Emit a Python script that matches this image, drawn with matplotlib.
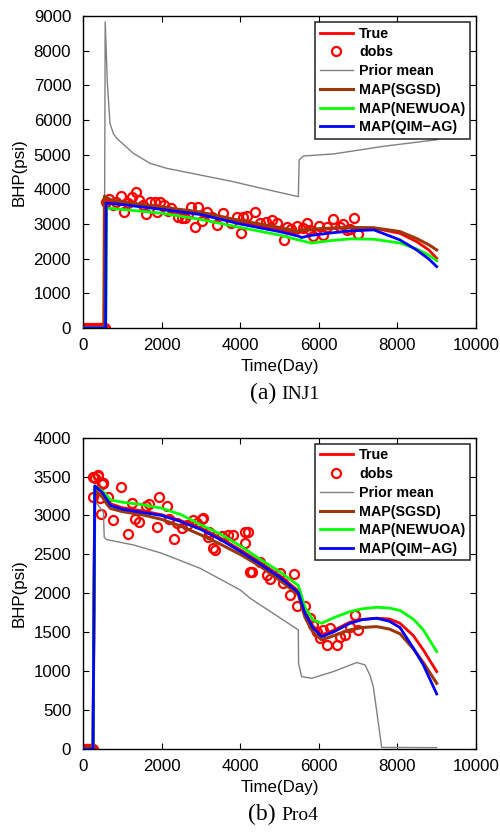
import numpy as np
import matplotlib
matplotlib.use("Agg")
import matplotlib.pyplot as plt

plt.rcParams['font.family'] = ['Liberation Sans', 'DejaVu Sans']

# ---------------- (a) INJ1 ----------------
inj_true_t = [0, 540, 555, 700, 1000, 2000, 3000, 4000, 5000, 5479, 5560, 5800, 6300, 6800, 7400, 8066, 8490, 8800, 9000]
inj_true_v = [0, 0, 3700, 3650, 3600, 3460, 3300, 3060, 2850, 2730, 2790, 2830, 2870, 2890, 2880, 2730, 2490, 2250, 2010]
inj_sgsd_t = [0, 530, 545, 700, 1000, 2000, 3000, 4000, 5000, 5479, 5560, 5800, 6300, 6800, 7400, 8066, 8490, 8800, 9000]
inj_sgsd_v = [0, 0, 3800, 3700, 3640, 3490, 3340, 3100, 2900, 2780, 2830, 2850, 2880, 2900, 2890, 2780, 2580, 2400, 2250]
inj_newuoa_t = [0, 580, 600, 700, 1000, 2000, 3000, 4000, 5000, 5479, 5560, 5800, 6300, 6800, 7400, 8066, 8490, 8800, 9000]
inj_newuoa_v = [0, 0, 3450, 3450, 3420, 3310, 3130, 2900, 2680, 2540, 2520, 2450, 2520, 2570, 2560, 2450, 2280, 2100, 1940]
inj_qim_t = [0, 575, 590, 700, 1000, 2000, 3000, 4000, 5000, 5479, 5560, 5800, 6300, 6800, 7400, 8066, 8490, 8800, 9000]
inj_qim_v = [0, 0, 3600, 3590, 3560, 3420, 3270, 3000, 2780, 2650, 2610, 2670, 2740, 2800, 2830, 2540, 2250, 1990, 1770]
inj_prior_t = [0, 540, 565, 620, 687, 771, 857, 1280, 1705, 2129, 2977, 3825, 4250, 5479, 5500, 5606, 6370, 7642, 9000]
inj_prior_v = [0, 0, 8830, 7060, 5900, 5615, 5470, 5040, 4750, 4606, 4413, 4220, 4105, 3788, 4846, 4961, 5019, 5240, 5430]
inj_dobs_t = [0, 50, 100, 150, 200, 250, 300, 350, 400, 450, 500, 550,
              585, 670, 760, 850, 957, 1051, 1150, 1238, 1340, 1433, 1520, 1603, 1705, 1832, 1875, 1959,
              2061, 2154, 2250, 2426, 2510, 2595, 2680, 2756, 2850, 2935, 3020, 3146, 3273, 3400, 3562,
              3757, 3926, 4012, 4079, 4163, 4377, 4504, 4656, 4800, 4928, 5115, 5199, 5300, 5453, 5600,
              5707, 5776, 5860, 6013, 6115, 6200, 6370, 6539, 6624, 6709, 6794, 6896, 7006]
inj_dobs_v = [0, 0, 0, 0, 0, 0, 0, 0, 0, 0, 0, 0,
              3643, 3711, 3550, 3620, 3807, 3336, 3600, 3787, 3932, 3692, 3560, 3288, 3624, 3624, 3355, 3643,
              3548, 3384, 3450, 3211, 3163, 3170, 3300, 3480, 2904, 3480, 3095, 3355, 3191, 2971, 3325,
              3018, 3191, 2750, 3191, 3230, 3345, 3038, 3066, 3120, 3038, 2538, 2923, 2850, 2942, 2870,
              3038, 2827, 2654, 2942, 2683, 2923, 3144, 2904, 3000, 2827, 2846, 3163, 2702]

# ---------------- (b) Pro4 ----------------
pro_t = [0, 255, 300, 500, 600, 700, 1000, 1500, 2000, 2500, 3000, 3500, 4000, 4500, 5000, 5479,
         5650, 5850, 6073, 6400, 6794, 7100, 7472, 7800, 8066, 8400, 8660, 9000]
pro_true_v = [0, 0, 3370, 3300, 3220, 3150, 3100, 3060, 3010, 2930, 2840, 2710, 2560, 2400, 2230, 2030,
              1760, 1580, 1465, 1530, 1630, 1665, 1680, 1670, 1615, 1460, 1272, 994]
pro_sgsd_v = [0, 0, 3330, 3230, 3150, 3090, 3050, 3010, 2950, 2860, 2750, 2630, 2500, 2350, 2170, 1980,
              1690, 1500, 1401, 1460, 1530, 1560, 1572, 1540, 1480, 1290, 1110, 844]
pro_newuoa_v = [0, 0, 3380, 3310, 3260, 3200, 3170, 3140, 3094, 3010, 2880, 2760, 2610, 2440, 2280, 2100,
                1820, 1660, 1615, 1690, 1765, 1800, 1821, 1810, 1780, 1670, 1530, 1251]
pro_qim_v = [0, 0, 3380, 3290, 3210, 3130, 3080, 3040, 3000, 2920, 2820, 2690, 2540, 2380, 2210, 2010,
             1740, 1560, 1443, 1510, 1615, 1660, 1680, 1640, 1560, 1300, 1080, 707]
pro_prior_t = [0, 260, 290, 430, 520, 540, 600, 1280, 2000, 2977, 4000, 4250, 5479, 5485, 5563, 5818,
               6370, 6963, 7175, 7300, 7387, 7600, 9000]
pro_prior_v = [0, 0, 3200, 3100, 3040, 2720, 2690, 2622, 2515, 2322, 2043, 1937, 1530, 1100, 929, 908,
               994, 1110, 1080, 950, 801, 20, 17]
pro_dobs_t = [0, 25, 50, 75, 100, 125, 150, 175, 200, 225, 250,
              245, 263, 305, 373, 390, 432, 450, 475, 500, 517, 645, 771, 957, 1153, 1238, 1323, 1433,
              1603, 1688, 1875, 1942, 2145, 2200, 2324, 2400, 2510, 2650, 2807, 2900, 3017, 3045, 3189,
              3214, 3316, 3359, 3529, 3698, 3825, 4122, 4122, 4206, 4250, 4292, 4500, 4673, 4758, 5013,
              5097, 5267, 5377, 5435, 5649, 5776, 5860, 5945, 6030, 6115, 6200, 6285, 6455, 6540, 6667,
              6794, 6921, 7006]
pro_dobs_v = [0, 0, 0, 0, 0, 0, 0, 0, 0, 0, 0,
              3235, 3492, 3480, 3509, 3522, 3222, 3020, 3406, 3415, 3415, 3243, 2943, 3364, 2763, 3166,
              2952, 2922, 3123, 3149, 2850, 3243, 3123, 2950, 2699, 2900, 2837, 2880, 2943, 2900, 2952,
              2965, 2729, 2793, 2580, 2558, 2738, 2751, 2751, 2793, 2652, 2793, 2279, 2279, 2400, 2237,
              2181, 2258, 2138, 1979, 2245, 1838, 1838, 1680, 1594, 1508, 1423, 1530, 1337, 1551, 1337,
              1444, 1465, 1572, 1722, 1530]

xticks = [0, 2000, 4000, 6000, 8000, 10000]
inj_yticks = list(range(0, 9001, 1000))
pro_yticks = list(range(0, 4001, 500))

RED = (1, 0, 0)
BROWN = (0.62, 0.22, 0.04)
GREEN = (0, 1, 0)
BLUE = (0, 0, 1)
GRAY = (0.5, 0.5, 0.5)

W, H = 500, 832
fig = plt.figure(figsize=(W / 100, H / 100), dpi=100)
ax1 = fig.add_axes([0.166, 0.6058, 0.786, 0.375])
ax2 = fig.add_axes([0.166, 0.0998, 0.786, 0.3742])

TICK_FS = 12.2


def draw(ax, tt, tv, dt, dv, pt, pv, st, sv, nt, nv, qt, qv, yticks, ymax):
    ax.plot(tt, tv, color=RED, lw=2.0, label='True', zorder=3)
    ax.plot(dt, dv, 'o', mfc='none', mec=RED, mew=1.6, ms=6.5, label='dobs', zorder=2)
    ax.plot(pt, pv, color=GRAY, lw=1.0, label='Prior mean', zorder=3)
    ax.plot(st, sv, color=BROWN, lw=2.2, label='MAP(SGSD)', zorder=4)
    ax.plot(nt, nv, color=GREEN, lw=2.0, label='MAP(NEWUOA)', zorder=4)
    ax.plot(qt, qv, color=BLUE, lw=2.0, label='MAP(QIM\u2212AG)', zorder=5)
    ax.set_xlim(0, 10000)
    ax.set_ylim(0, ymax)
    ax.set_xticks(xticks)
    ax.set_yticks(yticks)
    ax.tick_params(direction='in', top=True, right=True, labelsize=TICK_FS, length=4, width=0.8)
    ax.tick_params(axis='x', pad=7.5)
    ax.tick_params(axis='y', pad=8.5)
    for s in ax.spines.values():
        s.set_linewidth(1.0)
    ax.set_xlabel('Time(Day)', fontsize=TICK_FS, labelpad=4)
    ax.set_ylabel('BHP(psi)', fontsize=TICK_FS, labelpad=5)
    leg = ax.legend(loc='upper right', prop={'weight': 'bold', 'size': 10.3}, frameon=True,
                    fancybox=False, edgecolor='black', handlelength=2.3, handletextpad=0.45,
                    labelspacing=0.33, borderpad=0.3, borderaxespad=0.45, numpoints=1)
    leg.get_frame().set_linewidth(1.2)


draw(ax1, inj_true_t, inj_true_v, inj_dobs_t, inj_dobs_v, inj_prior_t, inj_prior_v,
     inj_sgsd_t, inj_sgsd_v, inj_newuoa_t, inj_newuoa_v, inj_qim_t, inj_qim_v, inj_yticks, 9000)
draw(ax2, pro_t, pro_true_v, pro_dobs_t, pro_dobs_v, pro_prior_t, pro_prior_v,
     pro_t, pro_sgsd_v, pro_t, pro_newuoa_v, pro_t, pro_qim_v, pro_yticks, 4000)

serif = ['Liberation Serif', 'DejaVu Serif']
for lab, name, ybase in [('(a)', 'INJ1', 399), ('(b)', 'Pro4', 820)]:
    yf = 1 - ybase / H
    fig.text(276 / W, yf, lab, ha='right', va='baseline', fontsize=17, family=serif)
    fig.text(281 / W, yf, name, ha='left', va='baseline', fontsize=14, family=serif)

fig.savefig('out.png', dpi=100)
